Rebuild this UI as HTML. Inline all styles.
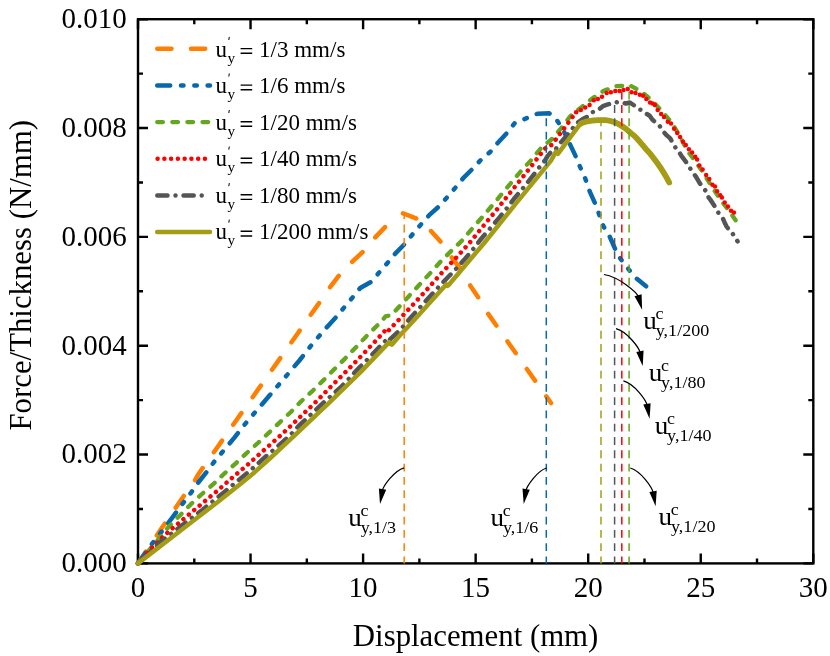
<!DOCTYPE html>
<html><head><meta charset="utf-8"><title>chart</title>
<style>
html,body{margin:0;padding:0;background:#fff;}
body{width:830px;height:656px;overflow:hidden;font-family:"Liberation Serif",serif;}
svg{display:block;will-change:transform;}
text{font-family:"Liberation Serif",serif;fill:#000;}
</style></head><body>
<svg width="830" height="656" viewBox="0 0 830 656">
<rect width="830" height="656" fill="#fff"/>

<rect x="138.0" y="19.2" width="675.3" height="544.2" fill="none" stroke="#000" stroke-width="2.4"/>
<path d="M138.00 563.4V553.4M138.00 19.2V29.2M194.28 563.4V558.4M194.28 19.2V24.2M250.55 563.4V553.4M250.55 19.2V29.2M306.82 563.4V558.4M306.82 19.2V24.2M363.10 563.4V553.4M363.10 19.2V29.2M419.38 563.4V558.4M419.38 19.2V24.2M475.65 563.4V553.4M475.65 19.2V29.2M531.92 563.4V558.4M531.92 19.2V24.2M588.20 563.4V553.4M588.20 19.2V29.2M644.47 563.4V558.4M644.47 19.2V24.2M700.75 563.4V553.4M700.75 19.2V29.2M757.02 563.4V558.4M757.02 19.2V24.2M813.30 563.4V553.4M813.30 19.2V29.2M138.0 563.40H148.0M813.3 563.40H803.3M138.0 508.98H143.0M813.3 508.98H808.3M138.0 454.56H148.0M813.3 454.56H803.3M138.0 400.14H143.0M813.3 400.14H808.3M138.0 345.72H148.0M813.3 345.72H803.3M138.0 291.30H143.0M813.3 291.30H808.3M138.0 236.88H148.0M813.3 236.88H803.3M138.0 182.46H143.0M813.3 182.46H808.3M138.0 128.04H148.0M813.3 128.04H803.3M138.0 73.62H143.0M813.3 73.62H808.3M138.0 19.20H148.0M813.3 19.20H803.3" stroke="#000" stroke-width="2.4" fill="none"/>
<path d="M138.0 563.4 L160.9 529.3 L179.9 501.5 L195.1 480.0 L199.4 472.7 L218.1 446.2 L237.4 418.7 L298.2 332.7 L310.9 314.5 L319.1 303.1 L329.8 287.5 L338.7 275.9 L352.6 261.4 L363.4 251.3 L374.8 237.8 L385.5 226.6 L393.0 220.2" fill="none" stroke="#ff7f00" stroke-width="4.5" stroke-linecap="round" stroke-linejoin="round" stroke-dasharray="14.2 19.45"/>
<path d="M402.9 213.4 L409.0 215.6 L415.9 218.3 L423.0 223.5 L430.4 230.4 L440.6 241.7 L451.4 257.1 L460.3 268.5 L469.8 284.9 L479.2 298.8 L488.7 314.6 L510.0 345.0 L530.0 373.5 L551.0 403.0" fill="none" stroke="#ff7f00" stroke-width="4.5" stroke-linecap="round" stroke-linejoin="round" stroke-dasharray="14.2 19.45"/>
<path d="M138.0 563.4 L152.7 542.9 L160.9 532.5 L172.3 517.6 L183.1 503.1 L191.3 492.3 L198.3 482.5 L207.0 471.5 L213.7 462.4 L222.2 452.2 L234.2 437.9 L245.6 423.4 L254.2 413.3 L264.6 401.3 L299.4 360.5 L310.8 345.9 L319.4 335.8 L328.0 325.9 L336.2 317.0 L344.0 307.6 L352.0 298.1 L360.2 288.0 L371.6 281.6 L378.6 273.1 L387.4 263.0 L395.7 253.1 L405.1 243.6 L412.5 234.4 L421.3 224.0 L429.2 215.2 L440.0 205.5 L455.2 187.9 L463.2 178.2 L472.6 168.8 L481.0 159.8 L490.4 151.7 L497.9 142.7 L507.3 132.6 L514.6 123.2 L526.1 118.4 L537.3 113.8 L549.3 113.3 L557.4 121.0 L563.5 130.6 L575.5 155.9 L580.2 167.2 L585.4 178.9 L589.8 191.7 L595.0 203.3 L598.9 213.7 L603.6 226.7 L609.3 235.7 L615.0 248.7 L620.4 258.6 L628.7 269.4 L636.5 278.5 L646.1 286.3" fill="none" stroke="#0868ac" stroke-width="4.5" stroke-linecap="round" stroke-linejoin="round" stroke-dasharray="13 10.8 2.5 10.8 2.5 10.8"/>
<path d="M138.0 563.4 L159.0 538.5 L169.2 526.2 L179.9 515.4 L190.7 504.4 L201.4 494.5 L213.2 484.2 L224.1 473.8 L235.5 463.6 L246.6 453.1 L257.9 443.0 L269.0 432.6 L280.0 422.1 L290.9 412.0 L301.5 401.0 L312.7 390.8 L323.5 380.1 L334.2 369.3 L345.0 358.6 L355.7 347.5 L366.2 336.4 L377.0 325.7 L379.8 323.4 L385.5 316.4 L391.2 315.1 L398.9 307.0 L409.3 295.7 L419.8 284.3 L430.2 273.1 L440.7 261.5 L451.2 251.0 L461.3 241.3 L471.9 228.9 L481.8 217.6 L491.9 205.8 L501.6 194.2 L511.5 182.4 L521.2 170.8 L530.7 160.6 L541.3 147.7 L551.4 139.5 L561.2 128.1 L570.4 116.1 L582.1 106.6 L592.6 98.3 L603.3 91.1 L615.3 86.3 L629.6 85.3 L640.9 91.1 L651.6 100.2 L663.0 112.3 L671.9 123.0 L680.7 137.6 L687.0 150.2 L696.2 162.6 L703.2 172.7 L711.4 186.0 L720.3 199.3 L729.8 211.9 L735.7 220.4" fill="none" stroke="#66a61e" stroke-width="4.3" stroke-linecap="round" stroke-linejoin="round" stroke-dasharray="5.7 9.4"/>
<path d="M138.0 563.4 L152.1 547.5 L167.6 532.5 L184.0 518.6 L200.4 504.9 L216.6 491.4 L232.6 477.4 L248.1 464.3 L263.9 450.2 L279.8 436.1 L295.6 421.3 L316.8 401.0 L331.1 386.4 L346.6 371.0 L361.0 356.3 L376.0 340.5 L386.3 329.3 L387.6 331.5 L398.4 320.2 L412.8 304.9 L427.4 289.0 L441.7 272.9 L455.8 258.1 L470.0 242.3 L482.7 226.7 L496.3 210.2 L509.2 193.9 L522.5 177.3 L535.5 160.8 L543.9 149.6 L548.0 146.0 L551.4 145.1 L555.6 139.7 L564.1 128.4 L572.1 117.6 L574.2 114.8" fill="none" stroke="#ff0000" stroke-width="4.5" stroke-linecap="round" stroke-linejoin="round" stroke-dasharray="0.01 7.05"/>
<path d="M138.0 563.4 L161.2 541.4 L171.1 533.8 L181.8 525.5 L192.2 517.6 L202.7 509.7 L212.8 501.3 L223.6 492.7 L233.0 484.8 L243.7 475.9 L253.4 467.7 L263.9 458.2 L273.4 450.0 L283.6 441.1 L292.7 432.5 L298.7 425.9 L324.7 401.6 L331.1 395.9 L340.5 387.5 L350.0 377.6 L359.5 367.4 L369.0 358.0 L377.9 348.5 L386.7 339.6 L388.8 337.3 L390.0 339.5 L400.0 330.1 L412.2 315.9 L421.1 306.2 L429.9 296.5 L438.8 286.8 L447.9 277.3 L456.7 268.2 L465.1 258.7 L473.2 249.1 L481.0 239.0 L490.2 228.3 L499.3 217.6 L506.7 208.5 L514.9 197.7 L523.8 187.2 L532.4 176.4 L540.6 165.7 L545.3 160.0 L547.7 155.9 L551.5 151.5 L554.6 150.8 L559.0 144.5 L566.6 135.7 L571.1 130.6 L575.5 124.3 L582.4 119.2 L586.9 116.9 L591.3 112.6 L598.3 110.0 L602.9 106.2 L607.1 104.7 L612.8 103.1 L617.2 102.1 L621.7 102.5 L626.0 103.5 L629.9 102.5 L635.8 106.6 L639.0 109.3 L642.8 110.4 L646.6 113.9 L649.7 115.7 L652.3 119.5 L659.8 126.2 L662.4 130.6 L666.8 135.4 L670.2 138.4 L672.5 142.6 L676.3 148.9 L678.4 150.8 L681.4 155.9 L685.8 161.6 L688.6 166.1 L691.8 170.8 L696.2 177.1 L699.0 181.9 L701.3 185.4 L706.4 191.7 L707.9 196.5 L710.1 199.3 L714.6 206.2 L717.7 211.9 L722.8 218.3 L724.7 222.7 L726.6 226.5 L731.0 232.2 L732.9 234.1 L737.6 241.4" fill="none" stroke="#555555" stroke-width="4.5" stroke-linecap="round" stroke-linejoin="round" stroke-dasharray="10.2 8 0.01 8"/>
<path d="M138.0 563.4 L188.1 524.8 L220.0 500.2 L241.0 483.6 L254.4 472.4 L270.9 457.5 L300.0 430.4 L329.8 402.2 L360.8 371.9 L389.2 342.1 L391.8 344.7 L400.0 335.2 L412.2 322.2 L446.4 284.3 L447.6 285.8 L449.5 284.0 L484.2 243.0 L517.4 201.7 L551.0 160.6 L556.0 151.6 L557.9 153.8 L579.9 124.3 L580.7 123.7 L581.6 123.2 L582.4 122.8 L583.2 122.5 L584.1 122.3 L585.0 122.0 L585.9 121.7 L586.9 121.5 L587.8 121.3 L588.8 121.1 L589.8 120.9 L590.7 120.8 L591.6 120.7 L592.5 120.6 L593.3 120.5 L594.2 120.4 L595.1 120.4 L596.0 120.3 L597.0 120.2 L597.9 120.2 L599.0 120.1 L600.0 120.1 L601.0 120.1 L602.0 120.1 L603.0 120.1 L604.0 120.1 L604.9 120.2 L605.9 120.2 L606.9 120.3 L608.0 120.5 L609.2 120.7 L610.4 121.0 L611.6 121.3 L612.9 121.7 L614.1 122.1 L615.2 122.5 L616.2 122.9 L617.1 123.3 L618.0 123.8 L618.8 124.3 L619.6 124.8 L620.5 125.3 L621.4 125.9 L622.4 126.4 L623.3 127.1 L624.3 127.7 L625.2 128.3 L626.0 128.9 L626.7 129.5 L627.4 130.1 L628.0 130.6 L628.6 131.2 L629.3 131.8 L630.0 132.4 L630.8 133.0 L631.6 133.7 L632.4 134.3 L633.3 135.0 L634.2 135.7 L635.0 136.5 L635.8 137.3 L636.7 138.2 L637.5 139.1 L638.3 140.1 L639.2 141.0 L640.0 142.0 L640.8 143.0 L641.6 143.9 L642.5 144.9 L643.3 145.9 L644.1 146.8 L644.9 147.8 L645.7 148.7 L646.5 149.7 L647.4 150.6 L648.2 151.5 L649.0 152.4 L649.9 153.4 L650.7 154.4 L651.5 155.4 L652.3 156.5 L653.1 157.5 L654.0 158.6 L654.8 159.7 L655.6 160.8 L656.4 161.9 L657.3 163.1 L658.1 164.2 L658.9 165.4 L659.8 166.6 L660.6 167.8 L661.4 169.1 L662.3 170.4 L663.1 171.7 L663.9 173.1 L664.7 174.4 L665.5 175.8 L666.3 177.1 L667.1 178.5 L667.8 179.9 L668.5 181.2 L669.2 182.5" fill="none" stroke="#a59c16" stroke-width="4.5" stroke-linecap="round" stroke-linejoin="round"/>
<g fill="#ff0000"><circle cx="576.1" cy="112.3" r="2.25"/><circle cx="580.8" cy="110.0" r="2.25"/><circle cx="585.2" cy="107.6" r="2.25"/><circle cx="589.6" cy="104.9" r="2.25"/><circle cx="593.8" cy="100.2" r="2.25"/><circle cx="597.9" cy="99.0" r="2.25"/><circle cx="602.0" cy="96.8" r="2.25"/><circle cx="606.7" cy="93.0" r="2.25"/><circle cx="610.9" cy="92.3" r="2.25"/><circle cx="615.3" cy="91.0" r="2.25"/><circle cx="619.5" cy="91.0" r="2.25"/><circle cx="623.5" cy="89.9" r="2.25"/><circle cx="627.7" cy="88.9" r="2.25"/><circle cx="631.5" cy="92.2" r="2.25"/><circle cx="635.5" cy="92.9" r="2.25"/><circle cx="639.8" cy="94.8" r="2.25"/><circle cx="643.1" cy="95.8" r="2.25"/><circle cx="646.3" cy="99.0" r="2.25"/><circle cx="650.0" cy="102.5" r="2.25"/><circle cx="652.6" cy="103.4" r="2.25"/><circle cx="654.8" cy="104.9" r="2.25"/><circle cx="657.7" cy="110.0" r="2.25"/><circle cx="661.1" cy="113.9" r="2.25"/><circle cx="664.0" cy="116.9" r="2.25"/><circle cx="667.8" cy="121.7" r="2.25"/><circle cx="671.0" cy="123.4" r="2.25"/><circle cx="674.1" cy="128.7" r="2.25"/><circle cx="677.2" cy="133.1" r="2.25"/><circle cx="680.1" cy="136.9" r="2.25"/><circle cx="683.0" cy="141.7" r="2.25"/><circle cx="685.8" cy="144.9" r="2.25"/><circle cx="688.9" cy="149.3" r="2.25"/><circle cx="692.1" cy="152.4" r="2.25"/><circle cx="695.2" cy="156.7" r="2.25"/><circle cx="697.1" cy="159.4" r="2.25"/><circle cx="699.4" cy="165.4" r="2.25"/><circle cx="702.6" cy="169.5" r="2.25"/><circle cx="706.1" cy="175.0" r="2.25"/><circle cx="709.3" cy="179.0" r="2.25"/><circle cx="712.4" cy="184.7" r="2.25"/><circle cx="715.0" cy="186.4" r="2.25"/><circle cx="717.1" cy="191.3" r="2.25"/><circle cx="720.3" cy="195.2" r="2.25"/><circle cx="721.9" cy="197.4" r="2.25"/><circle cx="724.7" cy="202.4" r="2.25"/><circle cx="727.9" cy="206.5" r="2.25"/><circle cx="731.0" cy="210.7" r="2.25"/><circle cx="733.9" cy="212.6" r="2.25"/></g>
<path d="M580.7 123.7 L581.6 123.2 L582.4 122.8 L583.2 122.5 L584.1 122.3 L585.0 122.0 L585.9 121.7 L586.9 121.5 L587.8 121.3 L588.8 121.1 L589.8 120.9 L590.7 120.8 L591.6 120.7 L592.5 120.6 L593.3 120.5 L594.2 120.4 L595.1 120.4 L596.0 120.3 L597.0 120.2 L597.9 120.2 L599.0 120.1 L600.0 120.1 L601.0 120.1 L602.0 120.1 L603.0 120.1 L604.0 120.1 L604.9 120.2 L605.9 120.2 L606.9 120.3 L608.0 120.5 L609.2 120.7 L610.4 121.0 L611.6 121.3 L612.9 121.7 L614.1 122.1 L615.2 122.5 L616.2 122.9 L617.1 123.3 L618.0 123.8 L618.8 124.3 L619.6 124.8 L620.5 125.3 L621.4 125.9 L622.4 126.4 L623.3 127.1 L624.3 127.7 L625.2 128.3 L626.0 128.9 L626.7 129.5 L627.4 130.1 L628.0 130.6 L628.6 131.2 L629.3 131.8 L630.0 132.4 L630.8 133.0 L631.6 133.7 L632.4 134.3 L633.3 135.0 L634.2 135.7 L635.0 136.5 L635.8 137.3 L636.7 138.2 L637.5 139.1 L638.3 140.1 L639.2 141.0 L640.0 142.0 L640.8 143.0 L641.6 143.9 L642.5 144.9 L643.3 145.9 L644.1 146.8 L644.9 147.8 L645.7 148.7 L646.5 149.7 L647.4 150.6 L648.2 151.5 L649.0 152.4 L649.9 153.4 L650.7 154.4 L651.5 155.4 L652.3 156.5 L653.1 157.5 L654.0 158.6 L654.8 159.7 L655.6 160.8 L656.4 161.9 L657.3 163.1 L658.1 164.2 L658.9 165.4 L659.8 166.6 L660.6 167.8 L661.4 169.1 L662.3 170.4 L663.1 171.7 L663.9 173.1 L664.7 174.4 L665.5 175.8 L666.3 177.1 L667.1 178.5 L667.8 179.9 L668.5 181.2 L669.2 182.5" fill="none" stroke="#a59c16" stroke-width="5.8" stroke-linecap="round" stroke-linejoin="round"/>
<path d="M404.2 212.8V563.4" stroke="#ff7f00" stroke-width="1.5" stroke-dasharray="7.8 5.4799999999999995" stroke-dashoffset="1.48" fill="none"/>
<path d="M546.3 113.4V563.4" stroke="#0868ac" stroke-width="1.5" stroke-dasharray="7.8 5.4799999999999995" stroke-dashoffset="8.32" fill="none"/>
<path d="M601.0 120.2V563.4" stroke="#a59c16" stroke-width="1.5" stroke-dasharray="7.8 5.4799999999999995" stroke-dashoffset="1.84" fill="none"/>
<path d="M614.6 102.5V563.4" stroke="#555555" stroke-width="1.5" stroke-dasharray="7.8 5.4799999999999995" stroke-dashoffset="10.70" fill="none"/>
<path d="M621.8 90.3V563.4" stroke="#ff0000" stroke-width="1.5" stroke-dasharray="7.8 5.4799999999999995" stroke-dashoffset="11.78" fill="none"/>
<path d="M629.1 85.5V563.4" stroke="#66a61e" stroke-width="1.5" stroke-dasharray="7.8 5.4799999999999995" stroke-dashoffset="6.98" fill="none"/>
<text x="138.0" y="597.3" font-size="29" text-anchor="middle">0</text>
<text x="250.6" y="597.3" font-size="29" text-anchor="middle">5</text>
<text x="363.1" y="597.3" font-size="29" text-anchor="middle">10</text>
<text x="475.6" y="597.3" font-size="29" text-anchor="middle">15</text>
<text x="588.2" y="597.3" font-size="29" text-anchor="middle">20</text>
<text x="700.8" y="597.3" font-size="29" text-anchor="middle">25</text>
<text x="813.3" y="597.3" font-size="29" text-anchor="middle">30</text>
<text x="126.7" y="572.1" font-size="29" text-anchor="end">0.000</text>
<text x="126.7" y="463.3" font-size="29" text-anchor="end">0.002</text>
<text x="126.7" y="354.5" font-size="29" text-anchor="end">0.004</text>
<text x="126.7" y="245.6" font-size="29" text-anchor="end">0.006</text>
<text x="126.7" y="136.8" font-size="29" text-anchor="end">0.008</text>
<text x="126.7" y="28.0" font-size="29" text-anchor="end">0.010</text>
<text x="475.6" y="645.9" font-size="30.8" text-anchor="middle">Displacement (mm)</text>
<text transform="translate(30.5,275.3) rotate(-90)" font-size="30.8" text-anchor="middle">Force/Thickness (N/mm)</text>
<path d="M157.3 48.8H205.1" fill="none" stroke="#ff7f00" stroke-width="4.5" stroke-linecap="round" stroke-dasharray="14.2 19.5"/>
<text x="215.5" y="56.5" font-size="23">u<tspan font-size="15.2" dy="6.1" dx="0.6">y</tspan></text>
<path d="M240.6 48.60h11.6M240.6 53.20h11.6" stroke="#000" stroke-width="1.45" fill="none"/>
<path d="M229.3 36.90l-0.5 3.1" stroke="#000" stroke-width="1.0" fill="none"/>
<text x="259.1" y="56.5" font-size="23">1/3 mm/s</text>
<path d="M157.2 85.5H210.0" fill="none" stroke="#0868ac" stroke-width="4.5" stroke-linecap="round" stroke-dasharray="13 10.8 2.5 10.8 2.5 10.8"/>
<text x="215.5" y="93.0" font-size="23">u<tspan font-size="15.2" dy="6.1" dx="0.6">y</tspan></text>
<path d="M240.6 85.14h11.6M240.6 89.74h11.6" stroke="#000" stroke-width="1.45" fill="none"/>
<path d="M229.3 73.44l-0.5 3.1" stroke="#000" stroke-width="1.0" fill="none"/>
<text x="259.1" y="93.0" font-size="23">1/6 mm/s</text>
<path d="M157.2 122.1H210.0" fill="none" stroke="#66a61e" stroke-width="4.3" stroke-linecap="round" stroke-dasharray="5.7 9.4"/>
<text x="215.5" y="129.6" font-size="23">u<tspan font-size="15.2" dy="6.1" dx="0.6">y</tspan></text>
<path d="M240.6 121.68h11.6M240.6 126.28h11.6" stroke="#000" stroke-width="1.45" fill="none"/>
<path d="M229.3 109.98l-0.5 3.1" stroke="#000" stroke-width="1.0" fill="none"/>
<text x="259.1" y="129.6" font-size="23">1/20 mm/s</text>
<path d="M157.6 158.8H205.0" fill="none" stroke="#ff0000" stroke-width="4.5" stroke-linecap="round" stroke-dasharray="0.01 6.75"/>
<text x="215.5" y="166.1" font-size="23">u<tspan font-size="15.2" dy="6.1" dx="0.6">y</tspan></text>
<path d="M240.6 158.22h11.6M240.6 162.82h11.6" stroke="#000" stroke-width="1.45" fill="none"/>
<path d="M229.3 146.52l-0.5 3.1" stroke="#000" stroke-width="1.0" fill="none"/>
<text x="259.1" y="166.1" font-size="23">1/40 mm/s</text>
<path d="M157.3 195.4H202.0" fill="none" stroke="#555555" stroke-width="4.5" stroke-linecap="round" stroke-dasharray="10.2 8 0.01 8"/>
<text x="215.5" y="202.7" font-size="23">u<tspan font-size="15.2" dy="6.1" dx="0.6">y</tspan></text>
<path d="M240.6 194.76h11.6M240.6 199.36h11.6" stroke="#000" stroke-width="1.45" fill="none"/>
<path d="M229.3 183.06l-0.5 3.1" stroke="#000" stroke-width="1.0" fill="none"/>
<text x="259.1" y="202.7" font-size="23">1/80 mm/s</text>
<path d="M157.2 232.1H210.0" fill="none" stroke="#a59c16" stroke-width="4.5" stroke-linecap="round"/>
<text x="215.5" y="239.2" font-size="23">u<tspan font-size="15.2" dy="6.1" dx="0.6">y</tspan></text>
<path d="M240.6 231.30h11.6M240.6 235.90h11.6" stroke="#000" stroke-width="1.45" fill="none"/>
<path d="M229.3 219.60l-0.5 3.1" stroke="#000" stroke-width="1.0" fill="none"/>
<text x="259.1" y="239.2" font-size="23">1/200 mm/s</text>
<text transform="translate(643.35,329.20) scale(1.06,1)" font-size="25.6">u</text><text transform="translate(655.55,319.20) scale(1.06,1)" font-size="17">c</text><text transform="translate(655.75,336.00) scale(1.075,1)" font-size="16.8">y,1/200</text>
<text transform="translate(648.70,380.80) scale(1.06,1)" font-size="25.6">u</text><text transform="translate(660.90,370.80) scale(1.06,1)" font-size="17">c</text><text transform="translate(661.10,387.60) scale(1.075,1)" font-size="16.8">y,1/80</text>
<text transform="translate(654.70,434.40) scale(1.06,1)" font-size="25.6">u</text><text transform="translate(666.90,424.40) scale(1.06,1)" font-size="17">c</text><text transform="translate(667.10,441.20) scale(1.075,1)" font-size="16.8">y,1/40</text>
<text transform="translate(658.60,525.10) scale(1.06,1)" font-size="25.6">u</text><text transform="translate(670.80,515.10) scale(1.06,1)" font-size="17">c</text><text transform="translate(671.00,531.90) scale(1.075,1)" font-size="16.8">y,1/20</text>
<text transform="translate(490.50,526.40) scale(1.06,1)" font-size="25.6">u</text><text transform="translate(502.70,516.40) scale(1.06,1)" font-size="17">c</text><text transform="translate(502.90,533.20) scale(1.075,1)" font-size="16.8">y,1/6</text>
<text transform="translate(348.30,526.40) scale(1.06,1)" font-size="25.6">u</text><text transform="translate(360.50,516.40) scale(1.06,1)" font-size="17">c</text><text transform="translate(360.70,533.20) scale(1.075,1)" font-size="16.8">y,1/3</text>
<path d="M603.9 274.5C619.8 277.2 637.3 292.6 638.6 297.2" fill="none" stroke="#000" stroke-width="1.25"/><path d="M642.1 309.8L634.5 296.3L641.6 294.3Z" fill="#000"/>
<path d="M616.0 328.7C627.1 331.6 639.3 347.8 640.3 353.2" fill="none" stroke="#000" stroke-width="1.25"/><path d="M642.7 366.0L636.3 351.9L643.6 350.6Z" fill="#000"/>
<path d="M623.4 380.9C634.3 383.8 646.3 400.3 647.3 405.9" fill="none" stroke="#000" stroke-width="1.25"/><path d="M649.6 418.7L643.3 404.6L650.6 403.3Z" fill="#000"/>
<path d="M630.3 468.0C640.8 471.0 652.4 487.6 653.4 493.4" fill="none" stroke="#000" stroke-width="1.25"/><path d="M655.6 506.2L649.4 492.0L656.7 490.8Z" fill="#000"/>
<path d="M546.6 468.0C537.1 470.8 526.6 486.4 525.8 491.1" fill="none" stroke="#000" stroke-width="1.25"/><path d="M523.7 503.9L522.5 488.5L529.8 489.7Z" fill="#000"/>
<path d="M404.1 467.8C394.1 470.6 383.1 486.3 382.2 491.1" fill="none" stroke="#000" stroke-width="1.25"/><path d="M380.0 503.9L378.9 488.5L386.2 489.8Z" fill="#000"/>
</svg></body></html>
